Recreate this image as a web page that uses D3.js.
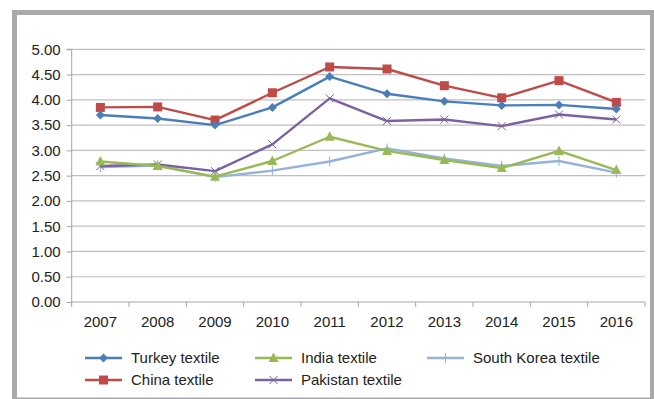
<!DOCTYPE html>
<html><head><meta charset="utf-8">
<script src="https://cdn.jsdelivr.net/npm/d3@7"></script>
<style>body{margin:0;background:#fff;} svg{display:block;font-family:"Liberation Sans",Arial,sans-serif;}</style>
</head><body>
<svg id="c" width="654" height="399"></svg>
<script>
const years = ["2007","2008","2009","2010","2011","2012","2013","2014","2015","2016"];
const turkey = [3.70,3.63,3.50,3.85,4.46,4.12,3.97,3.89,3.90,3.82];
const china = [3.85,3.86,3.60,4.14,4.65,4.61,4.28,4.04,4.38,3.95];
const india = [2.78,2.69,2.48,2.79,3.27,2.99,2.81,2.65,2.99,2.61];
const pakistan = [2.69,2.72,2.59,3.12,4.03,3.58,3.61,3.48,3.71,3.61];
const korea = [2.67,2.70,2.47,2.60,2.78,3.04,2.84,2.69,2.79,2.56];
const yTicks = [0,0.5,1,1.5,2,2.5,3,3.5,4,4.5,5];

const series = [
  {name:"Turkey textile", values:turkey, color:"#4A7EBB", marker:"diamond"},
  {name:"China textile", values:china, color:"#BE4B48", marker:"square"},
  {name:"India textile", values:india, color:"#98B954", marker:"triangle"},
  {name:"Pakistan textile", values:pakistan, color:"#7D60A0", marker:"x"},
  {name:"South Korea textile", values:korea, color:"#95B3D7", marker:"plus"}
];

const svg = d3.select("#c");
// frame
const fc = "#A9A9AD";
svg.append("rect").attr("x",12).attr("y",10).attr("width",642).attr("height",5).attr("fill",fc);
svg.append("rect").attr("x",12).attr("y",10).attr("width",5).attr("height",389).attr("fill",fc);
svg.append("rect").attr("x",650).attr("y",10).attr("width",4).attr("height",389).attr("fill",fc);
svg.append("rect").attr("x",12).attr("y",397.5).attr("width",642).attr("height",1.5).attr("fill",fc);

const L = 71.7, R = 645, T = 49.3, B = 302;
const x = d3.scaleBand().domain(years).range([L,R]);
const y = d3.scaleLinear().domain([0,5]).range([B,T]);

// gridlines
svg.append("g").selectAll("line").data(yTicks.filter(d=>d>0)).join("line")
  .attr("x1",L).attr("x2",R).attr("y1",d=>y(d)).attr("y2",d=>y(d))
  .attr("stroke","#BFBFBF").attr("stroke-width",1.2);

// y axis
const ya = svg.append("g").attr("transform",`translate(${L},0)`)
  .call(d3.axisLeft(y).tickValues(yTicks).tickFormat(d3.format(".2f")).tickSize(5).tickPadding(6));
ya.select(".domain").attr("stroke","#A6A6A6").attr("d",`M-5,${T}H0V${B}`);
ya.selectAll(".tick line").attr("stroke","#A6A6A6");
ya.selectAll("text").attr("font-size",15).attr("fill","#222").attr("font-family","Liberation Sans, Arial, sans-serif");

// x axis
const xa = svg.append("g").attr("transform",`translate(0,${B})`)
  .call(d3.axisBottom(x).tickSize(0).tickPadding(14));
xa.select(".domain").attr("stroke","#A6A6A6").attr("d",`M${L},0H${R}`);
xa.selectAll("text").attr("font-size",15).attr("fill","#222").attr("font-family","Liberation Sans, Arial, sans-serif");
xa.selectAll(".bt").data(years.concat(["end"])).join("line")
  .attr("x1",(d,i)=>L+i*x.step()).attr("x2",(d,i)=>L+i*x.step())
  .attr("y1",0).attr("y2",5).attr("stroke","#A6A6A6");

function marker(g, type, color, cx, cy){
  if(type==="diamond"){
    g.append("path").attr("d",`M${cx},${cy-4.5}L${cx+4.5},${cy}L${cx},${cy+4.5}L${cx-4.5},${cy}Z`).attr("fill",color);
  } else if(type==="square"){
    g.append("rect").attr("x",cx-4.5).attr("y",cy-4.5).attr("width",9).attr("height",9).attr("fill",color);
  } else if(type==="triangle"){
    g.append("path").attr("d",`M${cx},${cy-5.5}L${cx+5},${cy+4}L${cx-5},${cy+4}Z`).attr("fill",color);
  } else if(type==="x"){
    g.append("path").attr("d",`M${cx-4},${cy-4}L${cx+4},${cy+4}M${cx-4},${cy+4}L${cx+4},${cy-4}`).attr("stroke",color).attr("stroke-width",1);
  } else if(type==="plus"){
    g.append("path").attr("d",`M${cx},${cy-5}V${cy+5}`).attr("stroke",color).attr("stroke-width",1);
  }
}

const line = d3.line().x((d,i)=>x(years[i])+x.bandwidth()/2).y(d=>y(d));
// draw in reverse so Turkey on top
[...series].reverse().forEach(s=>{
  const g = svg.append("g");
  g.append("path").attr("d",line(s.values)).attr("fill","none").attr("stroke",s.color).attr("stroke-width",2.4).attr("stroke-linejoin","round");
  s.values.forEach((v,i)=>marker(g,s.marker,s.color,x(years[i])+x.bandwidth()/2,y(v)));
});

// legend
const legPos = [[85,358],[85,380],[255,358],[255,380],[427,358]];
series.forEach((s,i)=>{
  const [lx,ly] = legPos[i];
  const g = svg.append("g");
  g.append("line").attr("x1",lx).attr("x2",lx+37).attr("y1",ly).attr("y2",ly).attr("stroke",s.color).attr("stroke-width",2.6);
  marker(g,s.marker,s.color,lx+18.5,ly);
  g.append("text").attr("x",lx+46).attr("y",ly).attr("dy","0.35em").attr("font-size",15).attr("fill","#222").text(s.name);
});
</script>
</body></html>
